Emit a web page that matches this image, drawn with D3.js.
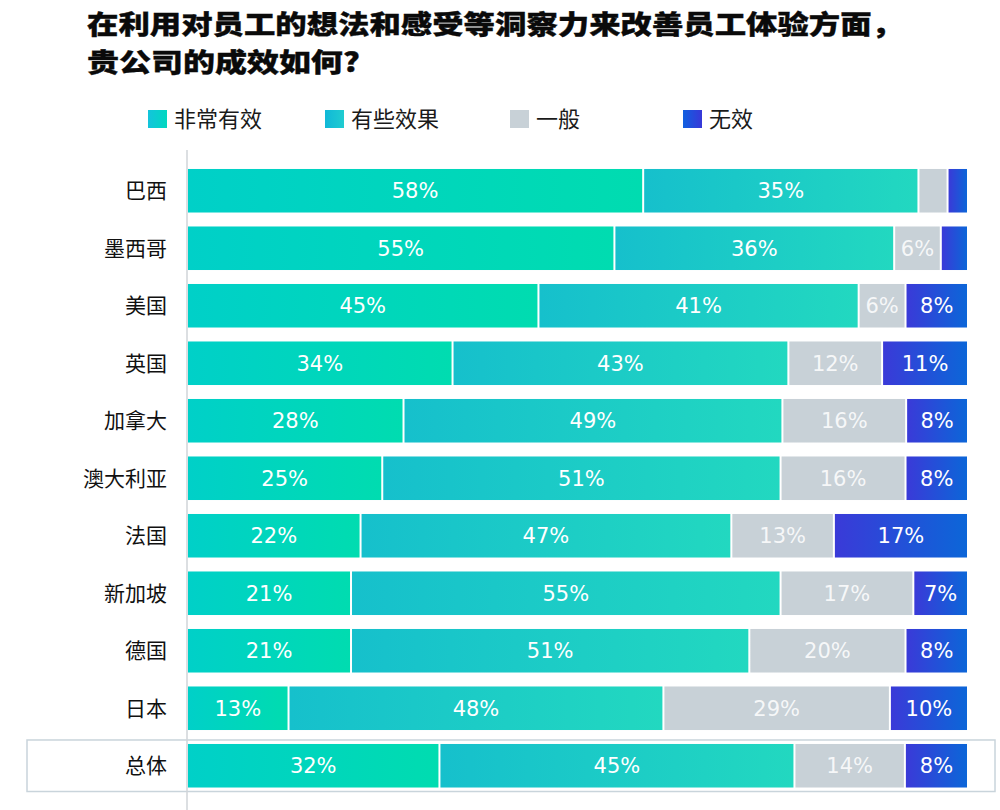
<!DOCTYPE html>
<html><head><meta charset="utf-8">
<script src="https://cdn.jsdelivr.net/npm/d3@7"></script>
<style>
html,body{margin:0;padding:0;background:#fff;}
svg{display:block;}
</style></head>
<body>
<svg id="chart" width="1000" height="810"></svg>
<script>
const titleLines = ["在利用对员工的想法和感受等洞察力来改善员工体验方面，", "贵公司的成效如何?"];
const categories = ["巴西","墨西哥","美国","英国","加拿大","澳大利亚","法国","新加坡","德国","日本","总体"];
const seriesNames = ["非常有效","有些效果","一般","无效"];
const veryEffective = [58,55,45,34,28,25,22,21,21,13,32];
const someEffect    = [35,36,41,43,49,51,47,55,51,48,45];
const average       = [3.7,6,6,12,16,16,13,17,20,29,14];
const ineffective   = [2.6,3.5,8,11,8,8,17,7,8,10,8];
const seriesValues = [veryEffective, someEffect, average, ineffective];
const gradStops = [["#00d0c8","#00dcb0"],["#16c0cc","#22d8c0"],["#c8d1d7","#c8d1d7"],["#3a3ad8","#0c66d8"]];

const svg = d3.select("#chart");
const defs = svg.append("defs");
gradStops.forEach((g,i)=>{
  const lg = defs.append("linearGradient").attr("id","g"+i).attr("x1","0").attr("x2","1").attr("y1","0").attr("y2","0");
  lg.append("stop").attr("offset","0").attr("stop-color",g[0]);
  lg.append("stop").attr("offset","1").attr("stop-color",g[1]);
});
const legStops = [["#14c4dc","#00d8c0"],["#10b8d8","#20ccd0"],["#c8d1d7","#c8d1d7"],["#1060e0","#3838d8"]];
legStops.forEach((g,i)=>{
  const lg = defs.append("linearGradient").attr("id","lg"+i).attr("x1","0").attr("x2","1").attr("y1","0").attr("y2","0");
  lg.append("stop").attr("offset","0").attr("stop-color",g[0]);
  lg.append("stop").attr("offset","1").attr("stop-color",g[1]);
});

// Title
const tl = [[87,34,816],[87,72,273]];
titleLines.forEach((t,i)=>{
  svg.append("text").attr("x",tl[i][0]).attr("y",tl[i][1])
    .attr("font-family","'Noto Sans CJK SC'").attr("font-weight",900).attr("font-size",26)
    .attr("fill","#0a0a0a").attr("stroke","#0a0a0a").attr("stroke-width",0.35)
    .attr("textLength",tl[i][2]).attr("lengthAdjust","spacingAndGlyphs").text(t);
});

// Legend
const legX = [148,325,510,683];
seriesNames.forEach((n,i)=>{
  svg.append("rect").attr("x",legX[i]).attr("y",110).attr("width",19).attr("height",18).attr("fill",`url(#lg${i})`);
  svg.append("text").attr("x",legX[i]+26).attr("y",127).attr("font-family","'Noto Sans CJK SC'")
    .attr("font-size",22).attr("fill","#1a1a1a").text(n);
});

// Data table
const table = categories.map((c,i)=>{
  const o = {cat:c};
  seriesNames.forEach((s,j)=>o[s]=seriesValues[j][i]);
  return o;
});
const stack = d3.stack().keys(seriesNames).offset(d3.stackOffsetExpand);
const stacked = stack(table);

const x = d3.scaleLinear().domain([0,1]).range([187,968]);
const y = d3.scaleBand().domain(categories).range([162,794.5]).paddingInner(0.243).paddingOuter(0.1215);

// Overall box
const last = categories[categories.length-1];
svg.append("rect").attr("x",27).attr("y",y(last)-4).attr("width",968).attr("height",y.bandwidth()+8)
  .attr("fill","none").attr("stroke","#c9d4db").attr("stroke-width",1.5);

// Axis line
svg.append("line").attr("x1",187).attr("x2",187).attr("y1",150).attr("y2",810).attr("stroke","#d0d4d8").attr("stroke-width",1.5);

// Category labels via axis
const yAxis = svg.append("g").attr("transform","translate(167,0)").call(d3.axisLeft(y).tickSize(0).tickPadding(0));
yAxis.select(".domain").remove();
yAxis.selectAll("text").attr("font-family","'Noto Sans CJK SC'").attr("font-size",21).attr("fill","#111").attr("dy","0.35em");

// Bars
stacked.forEach((layer,si)=>{
  const g = svg.append("g");
  g.selectAll("rect").data(layer).join("rect")
    .attr("x",d=>x(d[0])+1).attr("width",d=>Math.max(0,x(d[1])-x(d[0])-2))
    .attr("y",d=>y(d.data.cat)).attr("height",y.bandwidth())
    .attr("fill",`url(#g${si})`);
  g.selectAll("text").data(layer.filter(d=>d.data[seriesNames[si]]>=5)).join("text")
    .attr("x",d=>(x(d[0])+x(d[1]))/2).attr("y",d=>y(d.data.cat)+y.bandwidth()/2)
    .attr("dy","0.36em").attr("text-anchor","middle")
    .attr("font-family","'DejaVu Sans'").attr("font-size",21)
    .attr("fill","#fff").attr("fill-opacity",si===2?0.85:1)
    .text(d=>d.data[seriesNames[si]]+"%");
});
</script>
</body></html>
